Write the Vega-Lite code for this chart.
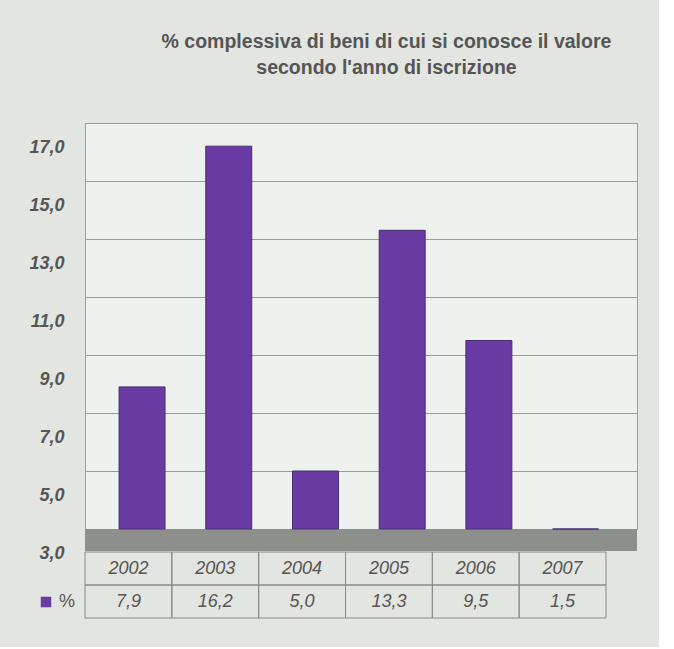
{
  "$schema": "https://vega.github.io/schema/vega-lite/v6.json",
  "background": "#e3e5e1",
  "padding": {"left": 28, "top": 32, "right": 10, "bottom": 28},
  "config": {
    "font": "Liberation Sans",
    "view": {"stroke": null},
    "locale": {"number": {"decimal": ",", "thousands": ".", "grouping": [3], "currency": ["", " €"]}}
  },
  "title": {
    "text": ["% complessiva di beni di cui si conosce il valore", "secondo l'anno di iscrizione"],
    "fontSize": 19.5,
    "fontWeight": "bold",
    "color": "#555555",
    "lineHeight": 26,
    "anchor": "middle",
    "dx": 48,
    "offset": 44
  },
  "datasets": {
    "d": [
      {"anno": "2002", "pct": 7.9},
      {"anno": "2003", "pct": 16.2},
      {"anno": "2004", "pct": 5.0},
      {"anno": "2005", "pct": 13.3},
      {"anno": "2006", "pct": 9.5},
      {"anno": "2007", "pct": 1.5}
    ]
  },
  "bounds": "flush",
  "spacing": 23,
  "resolve": {"scale": {"x": "independent", "y": "independent"}},
  "vconcat": [
    {
      "width": 552,
      "height": 406,
      "view": {"fill": "#eef2ee", "stroke": "#9a9c98"},
      "layer": [
        {
          "data": {"values": [{}]},
          "mark": {"type": "rule", "color": "#8d8f8a", "strokeWidth": 22, "yOffset": 11},
          "encoding": {"y": {"datum": 3, "type": "quantitative"}}
        },
        {
          "data": {"name": "d"},
          "mark": {"type": "bar", "stroke": "#4a2a74", "strokeWidth": 1, "color": "#6a3ca3"},
          "encoding": {
            "x": {
              "field": "anno",
              "type": "ordinal",
              "scale": {"paddingInner": 0.47, "paddingOuter": 0.418, "align": 0.47},
              "axis": null
            },
            "y": {
              "field": "pct",
              "type": "quantitative",
              "scale": {"domain": [3, 17], "clamp": true, "nice": false, "zero": false},
              "axis": {
                "values": [3, 5, 7, 9, 11, 13, 15, 17],
                "labelExpr": "replace(format(datum.value, '.1f'), '.', ',')",
                "labelOffset": 24,
                "labelPadding": 21,
                "ticks": false,
                "domain": false,
                "grid": true,
                "gridColor": "#9a9c98",
                "gridWidth": 1,
                "gridOpacity": 1,
                "labelFont": "Liberation Sans",
                "labelFontSize": 18,
                "labelFontWeight": "bold",
                "labelFontStyle": "italic",
                "labelColor": "#555555",
                "title": null
              }
            },
            "y2": {"datum": 3},
            "color": {
              "datum": "%",
              "scale": {"range": ["#6a3ca3"]},
              "legend": {
                "title": null,
                "orient": "none",
                "legendX": -48,
                "legendY": 470,
                "symbolType": "square",
                "symbolSize": 110,
                "symbolStrokeWidth": 0,
                "labelFont": "Liberation Sans",
                "labelFontSize": 18,
                "labelColor": "#555555"
              }
            }
          }
        }
      ]
    },
    {
      "width": 521,
      "height": 66,
      "data": {"name": "d"},
      "encoding": {
        "x": {"field": "anno", "type": "ordinal", "scale": {"paddingInner": 0, "paddingOuter": 0}, "axis": null}
      },
      "layer": [
        {
          "mark": {"type": "rect", "fillOpacity": 0, "stroke": "#8a8a8a", "strokeWidth": 1},
          "encoding": {"y": {"datum": "anno", "type": "nominal", "scale": {"domain": ["anno", "pct"], "paddingInner": 0, "paddingOuter": 0}, "axis": null}}
        },
        {
          "mark": {"type": "rect", "fillOpacity": 0, "stroke": "#8a8a8a", "strokeWidth": 1},
          "encoding": {"y": {"datum": "pct", "type": "nominal"}}
        },
        {
          "mark": {"type": "text", "fontSize": 18, "fontStyle": "italic", "color": "#555555", "font": "Liberation Sans"},
          "encoding": {"y": {"datum": "anno", "type": "nominal"}, "text": {"field": "anno"}}
        },
        {
          "mark": {"type": "text", "fontSize": 18, "fontStyle": "italic", "color": "#555555", "font": "Liberation Sans"},
          "encoding": {"y": {"datum": "pct", "type": "nominal"}, "text": {"field": "pct", "type": "quantitative", "format": ".1f"}}
        }
      ]
    }
  ]
}
